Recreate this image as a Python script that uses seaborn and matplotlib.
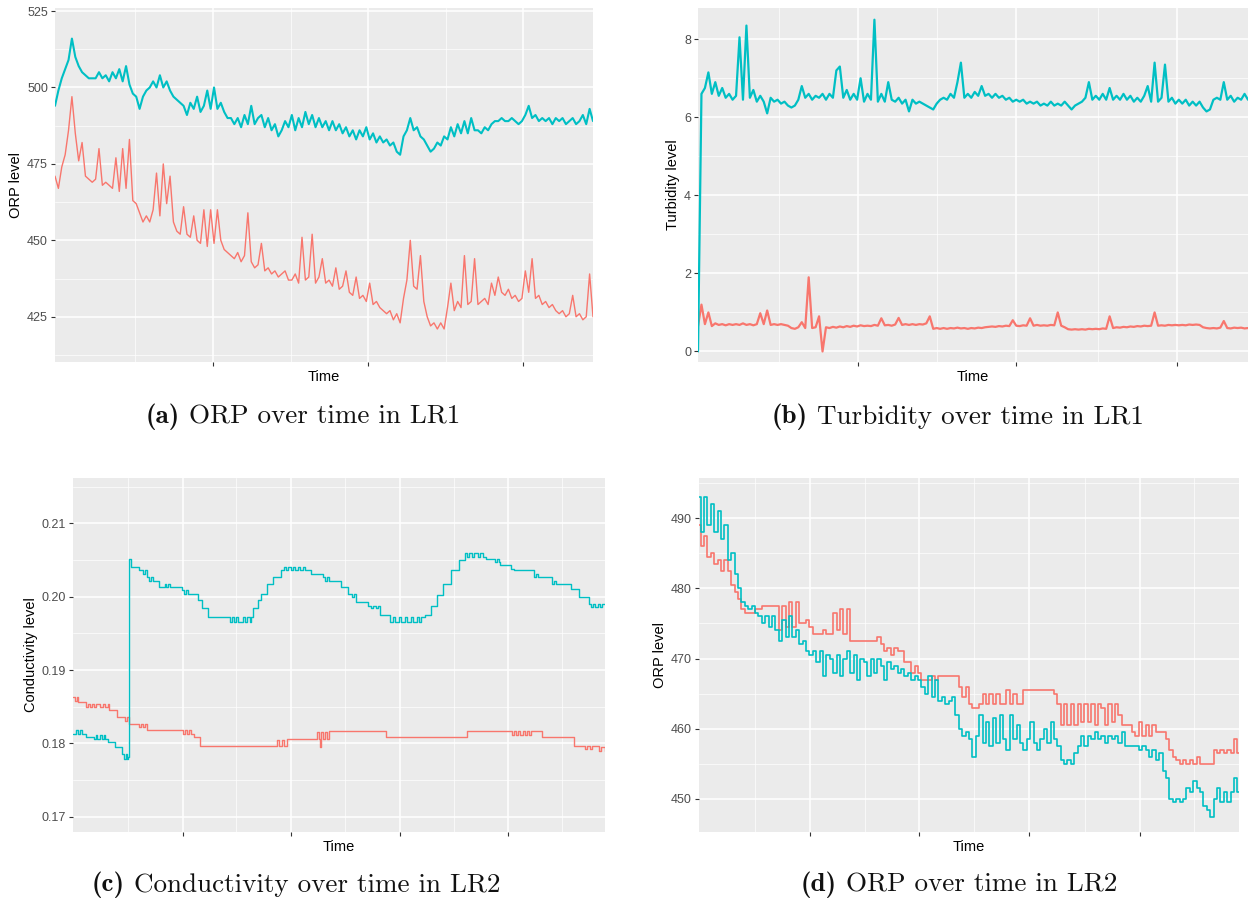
import matplotlib
matplotlib.use("Agg")
import numpy as np
import pandas as pd
import matplotlib.pyplot as plt
import seaborn as sns
from matplotlib.ticker import FormatStrFormatter

RED = "#F8766D"
TEAL = "#00BFC4"

# ---------------- (a) ORP over time in LR1 ----------------
orp_lr1_teal = [494,499,503,506,509,516,510,507,505,504,
 503,503,503,505,503,504,502,505,503,506,
 502,507,501,498,497,493,497,499,500,502,
 500,504,500,502,499,497,496,495,494,491,
 495,493,497,492,494,499,493,500,493,495,
 492,490,490,488,490,487,491,488,494,488,
 490,491,487,490,486,488,484,486,489,487,
 491,486,490,487,492,488,491,487,490,487,
 489,486,489,486,488,485,487,484,486,483,
 486,484,487,483,485,482,484,482,483,481,
 482,479,478,484,486,490,486,487,484,483,
 481,479,480,482,481,484,483,487,484,488,
 485,489,485,490,486,486,485,487,486,488,
 489,489,490,489,489,490,489,488,489,491,
 494,490,491,489,490,489,490,488,490,489,
 490,488,489,490,488,489,491,488,493,489]
orp_lr1_red = [471,467,474,478,486,497,485,476,482,471,
 470,469,470,480,468,469,468,467,477,466,
 480,467,483,463,462,459,456,458,456,460,
 472,458,475,462,471,456,453,452,461,452,
 451,458,450,449,460,448,460,449,460,450,
 447,446,445,444,446,443,445,459,443,441,
 442,449,440,441,439,440,438,439,440,437,
 437,439,436,451,437,438,452,436,438,444,
 436,437,435,441,434,435,440,433,432,438,
 431,432,430,436,429,430,428,427,426,427,
 424,426,423,431,437,450,435,434,445,430,
 425,422,423,421,423,421,428,436,427,430,
 428,445,429,430,444,429,430,431,429,436,
 432,438,433,432,434,431,432,430,431,440,
 433,444,431,432,429,430,428,429,427,426,
 427,425,426,432,425,426,424,425,439,425]

# ---------------- (b) Turbidity over time in LR1 ----------------
turb_lr1_teal = [0.0,6.6,6.75,7.15,6.6,6.9,6.55,6.75,6.5,6.6,
 6.45,6.55,8.05,6.45,8.35,6.5,6.7,6.4,6.55,6.4,
 6.1,6.5,6.4,6.45,6.35,6.4,6.3,6.25,6.3,6.45,
 6.8,6.5,6.6,6.45,6.55,6.5,6.6,6.45,6.6,6.5,
 7.2,7.3,6.5,6.7,6.45,6.6,6.45,7.0,6.4,6.6,
 6.45,8.5,6.4,6.6,6.4,6.9,6.45,6.4,6.5,6.35,
 6.45,6.15,6.45,6.35,6.4,6.35,6.3,6.25,6.2,6.35,
 6.45,6.5,6.45,6.6,6.5,6.9,7.4,6.5,6.6,6.5,
 6.65,6.55,6.8,6.55,6.6,6.5,6.6,6.5,6.55,6.45,
 6.5,6.4,6.45,6.4,6.45,6.35,6.4,6.35,6.4,6.3,
 6.35,6.3,6.4,6.3,6.35,6.3,6.4,6.3,6.2,6.3,
 6.35,6.4,6.5,6.9,6.45,6.55,6.45,6.6,6.45,6.75,
 6.45,6.55,6.45,6.6,6.45,6.55,6.4,6.5,6.4,6.55,
 6.8,6.4,7.4,6.4,6.5,7.35,6.4,6.5,6.35,6.45,
 6.35,6.45,6.3,6.4,6.3,6.4,6.25,6.15,6.2,6.45,
 6.5,6.45,6.9,6.45,6.55,6.4,6.5,6.45,6.6,6.45]
turb_lr1_red = [0.65,1.2,0.7,1.0,0.65,0.72,0.68,0.7,0.67,0.7,
 0.68,0.7,0.68,0.72,0.68,0.7,0.67,0.7,0.98,0.7,
 1.05,0.68,0.7,0.68,0.7,0.68,0.66,0.6,0.58,0.62,
 0.75,0.6,1.9,0.6,0.62,0.9,0.0,0.62,0.6,0.63,
 0.61,0.64,0.62,0.65,0.63,0.66,0.64,0.67,0.65,0.66,
 0.65,0.68,0.66,0.85,0.67,0.68,0.66,0.69,0.86,0.68,
 0.7,0.68,0.7,0.68,0.7,0.69,0.72,0.9,0.58,0.6,
 0.58,0.6,0.58,0.6,0.59,0.61,0.59,0.6,0.58,0.6,
 0.59,0.61,0.6,0.62,0.63,0.64,0.63,0.65,0.64,0.66,
 0.65,0.8,0.66,0.65,0.67,0.66,0.85,0.66,0.68,0.66,
 0.67,0.66,0.68,0.67,1.0,0.66,0.62,0.57,0.56,0.57,
 0.56,0.57,0.56,0.58,0.57,0.58,0.57,0.59,0.58,0.9,
 0.6,0.62,0.61,0.63,0.62,0.64,0.63,0.65,0.64,0.66,
 0.65,0.66,1.0,0.66,0.67,0.66,0.68,0.67,0.68,0.67,
 0.68,0.67,0.69,0.68,0.69,0.68,0.62,0.6,0.59,0.6,
 0.59,0.61,0.78,0.6,0.59,0.61,0.6,0.61,0.59,0.6]

# ---------------- (c) Conductivity over time in LR2 ----------------
cond_teal_time = [0,0.6,0.9,1.3,1.7,2.4,3.9,4.3,4.6,5.1,5.5,5.8,6.1,6.5,7.9,9.2,9.6,9.9,10.1,10.4,
 10.5,10.9,12.4,13.2,13.5,13.9,14.3,14.6,15.0,16.1,17.2,17.5,17.9,18.3,20.5,20.9,21.3,21.6,23.5,24.3,
 25.4,29.5,29.9,30.3,30.7,31.1,31.9,32.3,32.8,33.2,33.5,33.9,34.7,35.4,36.5,37.6,39.1,39.6,40.0,40.5,
 40.9,41.4,41.8,42.3,42.7,43.2,43.6,44.7,46.9,47.3,47.7,48.1,48.4,50.3,51.7,52.5,52.9,53.2,55.5,56.0,
 56.4,56.9,57.3,57.7,59.5,60.2,60.6,61.3,61.7,62.4,62.8,63.5,63.9,64.6,65.0,65.5,66.2,67.3,68.4,69.6,
 71.0,72.5,73.6,74.1,74.5,75.0,75.4,76.1,76.5,77.0,77.7,79.3,79.7,80.0,80.3,82.4,82.9,83.3,86.6,87.0,
 87.4,90.0,90.4,90.8,91.2,93.7,95.2,97.0,97.4,97.8,98.2,98.6,99.0,99.4,100]
cond_teal = [0.1813,0.1818,0.1813,0.1818,0.1813,0.1808,0.1806,0.1811,0.1806,0.1811,0.1806,0.1811,0.1806,0.1802,0.1795,0.1786,0.1779,0.1786,0.1779,0.1781,
 0.2052,0.2041,0.2036,0.2031,0.2036,0.2027,0.2022,0.2027,0.2022,0.2013,0.2018,0.2013,0.2018,0.2013,0.2009,0.2004,0.2009,0.2004,0.1995,0.1984,
 0.1972,0.1966,0.1972,0.1966,0.1972,0.1966,0.1972,0.1966,0.1972,0.1966,0.1972,0.1984,0.1995,0.2004,0.2018,0.2027,0.2036,0.2041,0.2036,0.2041,
 0.2036,0.2041,0.2036,0.2041,0.2036,0.2041,0.2036,0.2031,0.2027,0.2022,0.2027,0.2022,0.2022,0.2013,0.2004,0.1999,0.2004,0.1993,0.1988,0.1984,
 0.1988,0.1984,0.1988,0.1975,0.1966,0.1972,0.1966,0.1972,0.1966,0.1972,0.1966,0.1972,0.1966,0.1972,0.1966,0.1972,0.1975,0.1988,0.2002,0.2018,
 0.2036,0.2050,0.2059,0.2054,0.2059,0.2054,0.2059,0.2054,0.2059,0.2054,0.2052,0.2047,0.2052,0.2047,0.2043,0.2038,0.2036,0.2036,0.2027,0.2031,
 0.2027,0.2018,0.2022,0.2018,0.2018,0.2011,0.2000,0.1990,0.1986,0.1990,0.1986,0.1990,0.1986,0.1990,0.1990]
cond_red_time = [0,0.4,0.7,0.9,2.4, 2.8,3.2,3.6,4.0,4.4, 5.0,5.7,6.1,6.5,6.8, 8.3,9.8,10.1,10.5,12.4,
 12.8,13.2,13.6,13.9,20.6, 21.0,21.4,21.8,22.2,22.8, 23.9,38.4,38.8,39.2,39.6, 40.2,45.8,46.2,46.5,46.7,
 47.0,47.4,47.8,48.1,58.8, 74.0,82.5,82.9,83.3,83.7, 84.1,84.5,84.9,85.3,85.7, 86.1,88.1,94.1,96.3,96.7,
 97.1,97.5,98.9,99.3,100]
cond_red = [0.1863,0.1858,0.1863,0.1856,0.1849, 0.1854,0.1849,0.1854,0.1849,0.1854,
 0.1849,0.1854,0.1849,0.1854,0.1845, 0.1836,0.1831,0.1836,0.1827,0.1822,
 0.1827,0.1822,0.1827,0.1818,0.1813, 0.1818,0.1813,0.1818,0.1813,0.1808,
 0.1797,0.1804,0.1797,0.1804,0.1797, 0.1806,0.1815,0.1806,0.1795,0.1815,
 0.1806,0.1815,0.1806,0.1817,0.1808, 0.1817,0.1811,0.1817,0.1811,0.1817,
 0.1811,0.1817,0.1811,0.1817,0.1811, 0.1817,0.1808,0.1797,0.1792,0.1797,
 0.1792,0.1797,0.1790,0.1795,0.1790]

# ---------------- (d) ORP over time in LR2 ----------------
orp_lr2_teal = [493,488,493,489,492,488,491,487,489,484,
 485,482,480,478,477.5,477,477.5,476.5,476,475,
 476,474.5,476,474,472.5,475.5,473,476,473,474,
 472,472.5,471,470.5,471,469.5,471,467.5,470.5,470,
 468,470.5,467.5,470,471,468,470.5,467,470,469.5,
 467.5,470,468,470,469,467,469.5,468.5,469,468,
 468.5,467.5,468,467,467.5,467,466,465,467.5,464.5,
 467,464,464.5,463.5,464,464.5,462,460,459,459.5,
 458.5,456,459,462,458,461,457.5,461.5,458,462,
 458.5,457,462,458.5,460.5,458,457,458.5,461,458,
 457,458.5,460,458,461,458.5,457.5,455.5,455,455.5,
 455,456.5,457.5,459,457.5,459,458.5,459.5,458.5,459,
 458,459,458.5,459,458,459.5,457.5,457.5,457.5,457.5,
 457,457.5,457,456,457,455.5,456.5,454,453,450,
 449.5,450,449.5,450,451.5,451,452.5,451.5,451,449,
 448.5,447.5,450,451.5,449.5,451,449.5,451,453,451]
orp_lr2_red = [489,486,487.5,484.5,485,483.5,484,482.5,484,482.5,
 480.5,479.5,478.5,477,476.5,476.5,476.5,477,477,477.5,
 477.5,477.5,477.5,477.5,474,477.5,474.5,478,474.5,478,
 475,475,475.5,474.5,473.5,473.5,473.5,474,473.5,473.5,
 476.5,474,477,473.5,477,472.5,472.5,472.5,472.5,472.5,
 472.5,472.5,472.5,473,472,471,471.5,470.5,471.5,471,
 471,469.5,469.5,468,469,468,467,467,467,467.5,
 467,467.5,467.5,467.5,467.5,467.5,467.5,466,464.5,466,
 463.5,463,463,463.5,465,463.5,465,463.5,465,463.5,
 463.5,465.5,463.5,465,463.5,463.5,465.5,465.5,465.5,465.5,
 465.5,465.5,465.5,465.5,465.5,465,463.5,460.5,463.5,460.5,
 463.5,460.5,463.5,461,463.5,461,463.5,460.5,463.5,463,
 460.5,463.5,461,463.5,462,460.5,460.5,460.5,459.5,459,
 461,459,460.5,459,460.5,459.5,459.5,459.5,458.5,457,
 456,455.5,455,455.5,455,455.5,455,456,455,455,
 455,455,457,456.5,457,456.5,457,456.5,458.5,456.5]

caption_tags = ["(a)", "(b)", "(c)", "(d)"]
caption_texts = ["ORP over time in LR1",
                 "Turbidity over time in LR1",
                 "Conductivity over time in LR2",
                 "ORP over time in LR2"]

sns.set_theme(style="darkgrid")
plt.rcParams['font.family'] = ['Liberation Sans', 'DejaVu Sans']

W, H = 1252, 909
fig = plt.figure(figsize=(W / 100, H / 100), dpi=100)
fig.patch.set_facecolor('white')


def make_ax(x0, y0, x1, y1):
    return fig.add_axes([x0 / W, 1 - y1 / H, (x1 - x0) / W, (y1 - y0) / H])


def style(ax, ylabel, ylim, ymaj, ymin, xmaj, xmin, xmax, fmt):
    ax.set_facecolor('#EBEBEB')
    ax.set_xlim(0, xmax)
    ax.set_ylim(*ylim)
    ax.set_yticks(ymaj)
    ax.set_yticks(ymin, minor=True)
    ax.set_xticks([f * xmax for f in xmaj])
    ax.set_xticks([f * xmax for f in xmin], minor=True)
    ax.set_xticklabels([])
    ax.yaxis.set_major_formatter(FormatStrFormatter(fmt))
    ax.grid(which='major', color='white', lw=1.1)
    ax.grid(which='minor', color='white', lw=0.5)
    ax.set_axisbelow(True)
    ax.tick_params(which='major', bottom=True, left=True, length=3, width=0.8,
                   color='#333333', labelsize=9, labelcolor='#4D4D4D', pad=2)
    ax.tick_params(which='minor', bottom=False, left=False, length=0)
    for s in ax.spines.values():
        s.set_visible(False)
    ax.set_xlabel('Time', fontsize=10.5, color='black', labelpad=1)
    ax.set_ylabel(ylabel, fontsize=10.5, color='black', labelpad=3)


# (a)
axa = make_ax(55, 8, 593, 362)
ta = np.arange(len(orp_lr1_red))
sns.lineplot(x=ta, y=orp_lr1_red, color=RED, lw=1.0, estimator=None, ax=axa)
sns.lineplot(x=ta, y=orp_lr1_teal, color=TEAL, lw=1.5, estimator=None, ax=axa)
style(axa, 'ORP level', (410.2, 526), [425, 450, 475, 500, 525],
      [412.5, 437.5, 462.5, 487.5, 512.5],
      [0.293, 0.581, 0.870], [0.148, 0.438, 0.726], len(ta) - 1, '%d')

# (b)
axb = make_ax(698, 8, 1248, 362)
tb = np.arange(len(turb_lr1_red))
sns.lineplot(x=tb, y=turb_lr1_red, color=RED, lw=1.6, estimator=None, ax=axb)
sns.lineplot(x=tb, y=turb_lr1_teal, color=TEAL, lw=1.6, estimator=None, ax=axb)
style(axb, 'Turbidity level', (-0.27, 8.8), [0, 2, 4, 6, 8], [1, 3, 5, 7],
      [0.290, 0.579, 0.870], [0.147, 0.435, 0.727], len(tb) - 1, '%d')

# (c)
axc = make_ax(73, 478, 605, 832)
sns.lineplot(x=cond_red_time, y=cond_red, color=RED, lw=1.0, estimator=None,
             drawstyle='steps-post', ax=axc)
sns.lineplot(x=cond_teal_time, y=cond_teal, color=TEAL, lw=1.0, estimator=None,
             drawstyle='steps-post', ax=axc)
style(axc, 'Conductivity level', (0.1679, 0.2162), [0.17, 0.18, 0.19, 0.20, 0.21],
      [0.175, 0.185, 0.195, 0.205, 0.215],
      [0.206, 0.410, 0.614, 0.818], [0.103, 0.307, 0.512, 0.716, 0.920], 100, '%.2f')

# (d)
axd = make_ax(699, 478, 1239, 832)
td = np.arange(len(orp_lr2_red))
sns.lineplot(x=td, y=orp_lr2_red, color=RED, lw=1.2, estimator=None,
             drawstyle='steps-mid', ax=axd)
sns.lineplot(x=td, y=orp_lr2_teal, color=TEAL, lw=1.2, estimator=None,
             drawstyle='steps-mid', ax=axd)
style(axd, 'ORP level', (445.3, 495.7), [450, 460, 470, 480, 490],
      [455, 465, 475, 485, 495],
      [0.206, 0.408, 0.612, 0.816], [0.103, 0.307, 0.510, 0.715, 0.917], len(td) - 1, '%d')

for ax in (axa, axb, axc, axd):
    leg = ax.get_legend()
    if leg is not None:
        leg.remove()

# captions: bold tag + roman text, centred as one line
renderer = fig.canvas.get_renderer()
cap_pos = [(303, 417), (958, 417), (296, 885), (959, 885)]
FS = 19.5
for (cx, cy), tag, txt in zip(cap_pos, caption_tags, caption_texts):
    t1 = fig.text(0, 1 - cy / H, tag, ha='left', va='center', fontsize=FS,
                  family='cmb10', color='#111111')
    t2 = fig.text(0, 1 - cy / H, txt, ha='left', va='center', fontsize=FS,
                  family='cmr10', color='#111111')
    w1 = t1.get_window_extent(renderer).width
    w2 = t2.get_window_extent(renderer).width
    gap = FS * 0.45
    total = w1 + gap + w2
    x0 = cx - total / 2
    t1.set_x(x0 / W)
    t2.set_x((x0 + w1 + gap) / W)

fig.savefig('out.png', dpi=100, facecolor='white')
